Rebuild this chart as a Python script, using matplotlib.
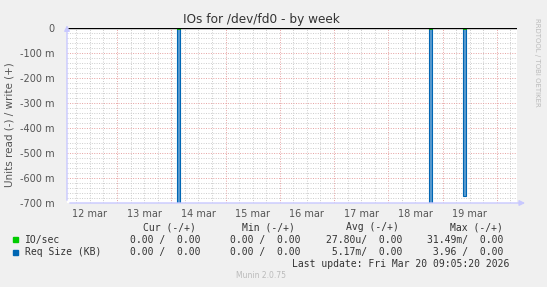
import matplotlib
matplotlib.use("Agg")
import matplotlib.pyplot as plt
import numpy as np

# x in days since 12 mar 00:00
day_labels = ["12 mar", "13 mar", "14 mar", "15 mar", "16 mar", "17 mar", "18 mar", "19 mar"]
spike_days = [2.13, 6.78, 7.40]
req_size_read = [-720, -720, -670]     # m
io_sec_read = [-5, -5, -5]            # m
y_ticks = [0, -100, -200, -300, -400, -500, -600, -700]

x_start, x_end = 0.08, 8.37
W, H = 547, 287

fig = plt.figure(figsize=(W / 100, H / 100), dpi=100)
fig.set_facecolor("#f0f0f0")
ax = fig.add_axes([67 / W, 1 - 203 / H, 450 / W, 175 / H])
ax.set_facecolor("white")
ax.set_xlim(x_start, x_end)
ax.set_ylim(-700, 0)

# grid
for d in np.arange(0, 9, 0.25):
    if x_start < d < x_end:
        major = abs(d - round(d)) < 1e-9
        ax.axvline(d, color="#e6a0a0" if major else "#cccccc", lw=0.7,
                   ls=(0, (1, 1.5)), zorder=0)
for v in range(0, -701, -20):
    major = v % 100 == 0
    ax.axhline(v, color="#e6a0a0" if major else "#cccccc", lw=0.7,
               ls=(0, (1, 1.5)), zorder=0)

# data
bw = 2.5 / 54.3
ax.bar(spike_days, req_size_read, width=bw, bottom=0, color="#5a9bd0",
       edgecolor="#0066b3", linewidth=0.8, zorder=3)
ax.bar(spike_days, io_sec_read, width=bw, bottom=0, color="none",
       edgecolor="#00cc00", linewidth=0.7, zorder=4)
ax.axhline(0, color="black", lw=1, zorder=5)

for s in ax.spines.values():
    s.set_visible(False)
ax.set_yticks(y_ticks)
ax.set_yticklabels(["0" if v == 0 else f"{v} m" for v in y_ticks])
ax.set_xticks([i + 0.5 for i in range(len(day_labels))])
ax.set_xticklabels(day_labels)
ax.tick_params(length=0, labelsize=7, colors="#555555", pad=4)
ax.tick_params(axis="y", pad=9)

# axis lines with arrows
ax.annotate("", xy=(x_end + 0.2, -700), xytext=(x_start, -700),
            arrowprops=dict(arrowstyle="-|>", color="#c8c8ff", lw=1,
                            mutation_scale=8), annotation_clip=False, zorder=6)
ax.annotate("", xy=(x_start, 22), xytext=(x_start, -700),
            arrowprops=dict(arrowstyle="-|>", color="#c8c8ff", lw=1,
                            mutation_scale=8), annotation_clip=False, zorder=6)

fig.text(261 / W, 1 - 19 / H, "IOs for /dev/fd0 - by week", ha="center",
         va="center", fontsize=8.7, color="#333333")
fig.text(10 / W, 1 - 125 / H, "Units read (-) / write (+)", rotation=90,
         ha="center", va="center", fontsize=7.5, color="#555555")
fig.text(537 / W, 1 - 62 / H, "RRDTOOL / TOBI OETIKER", rotation=270,
         ha="center", va="center", fontsize=5, color="#bbbbbb")

# legend table
mono = dict(family="DejaVu Sans Mono", fontsize=7, color="#333333", va="center")
headers = ["Cur (-/+)", "Min (-/+)", "Avg (-/+)", "Max (-/+)"]
header_x = [196, 295, 399, 503]
col_x = [200, 301, 402, 503]
names = ["IO/sec", "Req Size (KB)"]
colors = ["#00cc00", "#0066b3"]
values = [["0.00 /  0.00", "0.00 /  0.00", "27.80u/  0.00", "31.49m/  0.00"],
          ["0.00 /  0.00", "0.00 /  0.00", " 5.17m/  0.00", " 3.96 /  0.00"]]
for h, x in zip(headers, header_x):
    fig.text(x / W, 1 - 227.5 / H, h, ha="right", **mono)
for i, (n, c, row) in enumerate(zip(names, colors, values)):
    y = 239.5 + i * 12.5
    fig.patches.append(plt.Rectangle((13 / W, 1 - (y + 2.5) / H), 5 / W, 5 / H,
                                     transform=fig.transFigure, color=c))
    fig.text(25 / W, 1 - y / H, n, ha="left", **mono)
    for v, x in zip(row, col_x):
        fig.text(x / W, 1 - y / H, v, ha="right", **mono)
fig.text(509 / W, 1 - 264 / H, "Last update: Fri Mar 20 09:05:20 2026",
         ha="right", **mono)
fig.text(261 / W, 1 - 276 / H, "Munin 2.0.75", ha="center", va="center",
         fontsize=5.5, color="#bbbbbb")

fig.savefig("out.png", dpi=100, facecolor=fig.get_facecolor())
